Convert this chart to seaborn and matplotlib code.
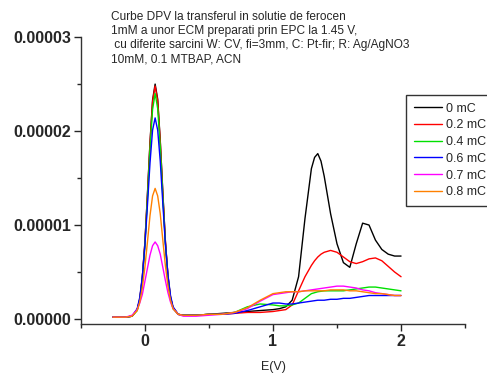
import numpy as np
import pandas as pd
import matplotlib
matplotlib.use('Agg')
import matplotlib.pyplot as plt
import matplotlib.ticker as mticker
import seaborn as sns

# potential (V)
E = [-0.25, -0.15, -0.1, -0.06, -0.04, -0.02, 0.0, 0.02, 0.04, 0.06, 0.08, 0.10,
     0.12, 0.14, 0.16, 0.18, 0.2, 0.22, 0.26, 0.3,
     0.4, 0.5, 0.6, 0.7, 0.8, 0.9, 1.0, 1.05, 1.1, 1.15, 1.2, 1.25, 1.3, 1.325,
     1.35, 1.375, 1.4, 1.45, 1.5, 1.55, 1.6, 1.65, 1.7, 1.75, 1.8, 1.85, 1.9,
     1.95, 2.0]

# current, in units of 1e-5 A
i_0mC = [0.02, 0.02, 0.03, 0.10, 0.21, 0.44, 0.81, 1.33, 1.88, 2.33, 2.50, 2.34,
         1.90, 1.35, 0.83, 0.46, 0.23, 0.12, 0.05, 0.04,
         0.04, 0.05, 0.06, 0.07, 0.08, 0.09, 0.10, 0.11, 0.13, 0.20, 0.45, 1.07, 1.60, 1.72,
         1.76, 1.68, 1.52, 1.12, 0.80, 0.60, 0.55, 0.80, 1.02, 1.00, 0.84, 0.74, 0.69,
         0.67, 0.67]
i_02mC = [0.02, 0.02, 0.03, 0.10, 0.21, 0.44, 0.81, 1.32, 1.87, 2.31, 2.48, 2.32,
          1.89, 1.34, 0.83, 0.46, 0.23, 0.12, 0.05, 0.04,
          0.04, 0.05, 0.05, 0.06, 0.07, 0.07, 0.08, 0.09, 0.10, 0.15, 0.30, 0.45, 0.57, 0.62,
          0.66, 0.69, 0.71, 0.73, 0.71, 0.66, 0.61, 0.59, 0.61, 0.64, 0.65, 0.62, 0.56,
          0.50, 0.45]
i_04mC = [0.02, 0.02, 0.03, 0.09, 0.20, 0.42, 0.78, 1.28, 1.81, 2.23, 2.40, 2.24,
          1.83, 1.30, 0.80, 0.44, 0.22, 0.11, 0.05, 0.04,
          0.04, 0.05, 0.05, 0.07, 0.13, 0.16, 0.15, 0.14, 0.14, 0.15, 0.17, 0.22, 0.27, 0.28,
          0.29, 0.295, 0.30, 0.30, 0.30, 0.30, 0.31, 0.32, 0.33, 0.34, 0.34, 0.33, 0.32,
          0.31, 0.30]
i_06mC = [0.02, 0.02, 0.03, 0.11, 0.23, 0.45, 0.78, 1.21, 1.66, 2.01, 2.14, 2.01,
          1.68, 1.23, 0.80, 0.47, 0.25, 0.13, 0.05, 0.04,
          0.04, 0.05, 0.05, 0.06, 0.09, 0.13, 0.17, 0.17, 0.16, 0.16, 0.17, 0.18, 0.19, 0.195,
          0.20, 0.20, 0.20, 0.21, 0.21, 0.22, 0.22, 0.23, 0.24, 0.25, 0.25, 0.25, 0.25,
          0.25, 0.25]
i_07mC = [0.02, 0.02, 0.04, 0.10, 0.17, 0.26, 0.40, 0.54, 0.68, 0.78, 0.82, 0.78,
          0.69, 0.55, 0.41, 0.28, 0.18, 0.11, 0.05, 0.03,
          0.03, 0.04, 0.05, 0.07, 0.11, 0.19, 0.26, 0.27, 0.28, 0.29, 0.29, 0.30, 0.31, 0.315,
          0.32, 0.325, 0.33, 0.34, 0.35, 0.35, 0.34, 0.33, 0.31, 0.30, 0.28, 0.27, 0.26,
          0.25, 0.25]
i_08mC = [0.02, 0.02, 0.03, 0.09, 0.18, 0.33, 0.55, 0.82, 1.10, 1.31, 1.39, 1.31,
          1.12, 0.84, 0.57, 0.35, 0.20, 0.11, 0.05, 0.04,
          0.04, 0.05, 0.05, 0.07, 0.12, 0.20, 0.27, 0.28, 0.29, 0.29, 0.29, 0.30, 0.30, 0.30,
          0.30, 0.30, 0.30, 0.31, 0.31, 0.31, 0.30, 0.30, 0.29, 0.28, 0.27, 0.27, 0.26,
          0.25, 0.25]

labels = ['0 mC', '0.2 mC', '0.4 mC', '0.6 mC', '0.7 mC', '0.8 mC']
series = [i_0mC, i_02mC, i_04mC, i_06mC, i_07mC, i_08mC]
colors = ['#000000', '#ff0000', '#00e000', '#0000ff', '#ff00ff', '#ff8000']

frames = []
for lab, vals in zip(labels, series):
    frames.append(pd.DataFrame({'E': E, 'I': np.array(vals) * 1e-5, 'Q': lab}))
df = pd.concat(frames, ignore_index=True)

sns.set_style('ticks')
plt.rcParams['font.family'] = ['Liberation Sans', 'DejaVu Sans']

fig = plt.figure(figsize=(4.87, 3.77), dpi=100)
ax = fig.add_axes([0.166, 0.1406, 0.789, 0.761])

sns.lineplot(data=df, x='E', y='I', hue='Q', palette=colors, hue_order=labels,
             estimator=None, sort=False, linewidth=1.0, ax=ax, legend=False)

ax.set_xlim(-0.5, 2.5)
ax.set_ylim(-0.053e-5, 3.0e-5)
ax.set_xticks([0, 1, 2])
ax.xaxis.set_minor_locator(mticker.FixedLocator([-0.5, 0.5, 1.5, 2.5]))
ax.set_yticks([0, 1e-5, 2e-5, 3e-5])
ax.yaxis.set_minor_locator(mticker.FixedLocator([0.5e-5, 1.5e-5, 2.5e-5]))
ax.yaxis.set_major_formatter(mticker.FormatStrFormatter('%.5f'))
ax.tick_params(which='major', direction='out', length=5, width=1, labelsize=11.5, pad=2)
ax.tick_params(which='minor', direction='out', length=3, width=1)
for lab in ax.get_xticklabels() + ax.get_yticklabels():
    lab.set_fontweight('bold')
sns.despine(ax=ax)
for s in ['left', 'bottom']:
    ax.spines[s].set_linewidth(1)
    ax.spines[s].set_color('#333333')

ax.set_xlabel('E(V)', fontsize=9, labelpad=9)
ax.set_ylabel('')

fig.text(0.227, 0.972, 'Curbe DPV la transferul in solutie de ferocen\n'
         '1mM a unor ECM preparati prin EPC la 1.45 V,\n'
         ' cu diferite sarcini W: CV, fi=3mm, C: Pt-fir; R: Ag/AgNO3\n'
         '10mM, 0.1 MTBAP, ACN', fontsize=8.6, va='top', ha='left', linespacing=1.24)

handles = [plt.Line2D([], [], color=c, lw=1) for c in colors]
leg = fig.legend(handles, labels, loc='upper left', bbox_to_anchor=(0.834, 0.748),
                 fontsize=9, frameon=True, fancybox=False, handlelength=2.3,
                 labelspacing=0.38, borderpad=0.6, handletextpad=0.3, borderaxespad=0)
leg.get_frame().set_edgecolor('black')
leg.get_frame().set_linewidth(1)

fig.savefig('out.png', dpi=100)
